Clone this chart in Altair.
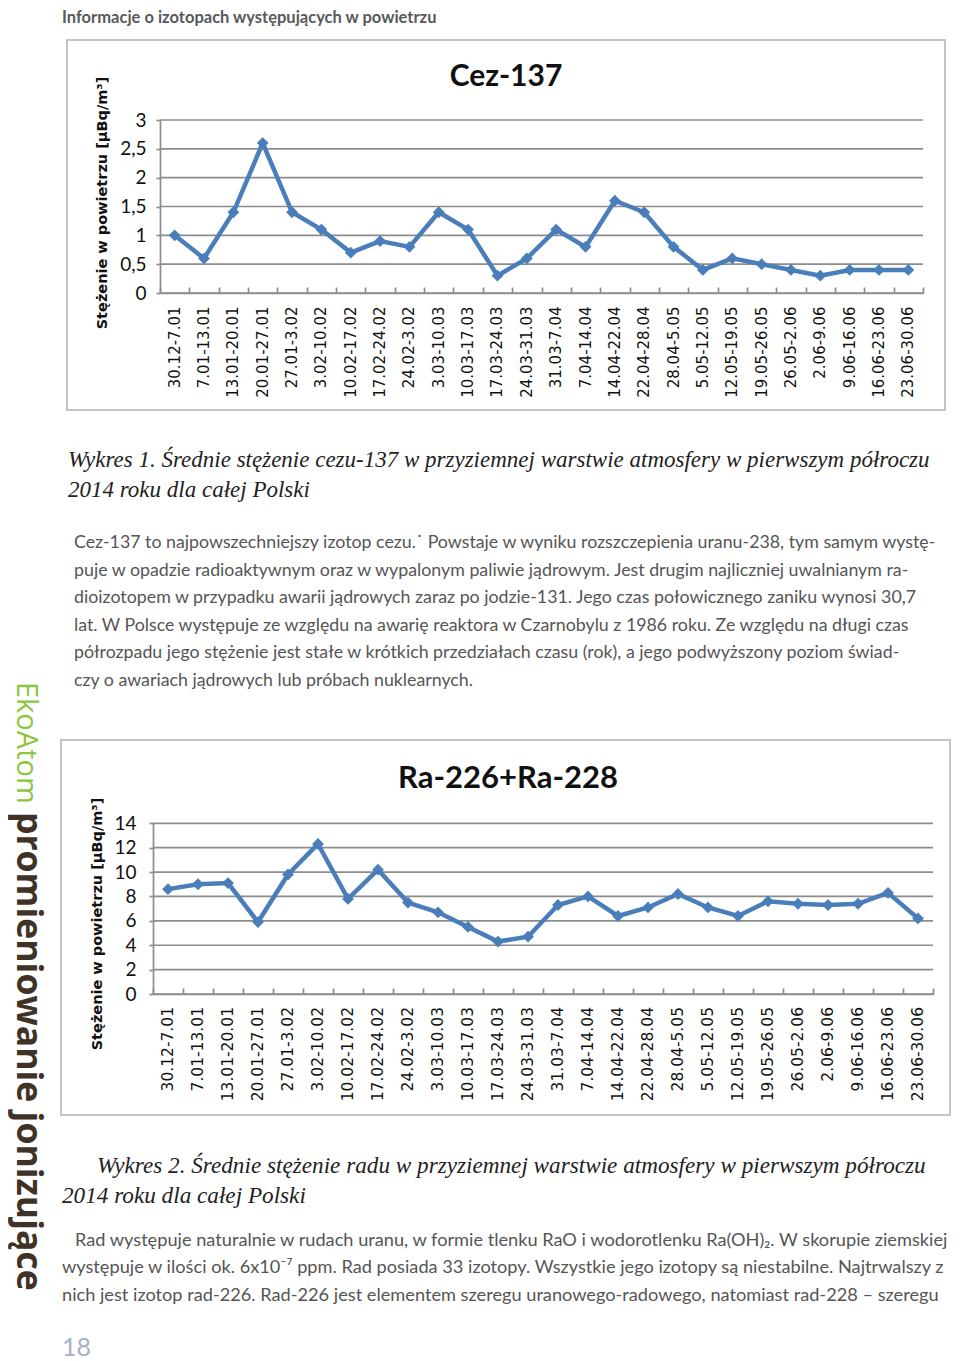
import altair as alt
import pandas as pd

# ---------------- data ----------------
periods = ["30.12-7.01", "7.01-13.01", "13.01-20.01", "20.01-27.01", "27.01-3.02",
           "3.02-10.02", "10.02-17.02", "17.02-24.02", "24.02-3.02", "3.03-10.03",
           "10.03-17.03", "17.03-24.03", "24.03-31.03", "31.03-7.04", "7.04-14.04",
           "14.04-22.04", "22.04-28.04", "28.04-5.05", "5.05-12.05", "12.05-19.05",
           "19.05-26.05", "26.05-2.06", "2.06-9.06", "9.06-16.06", "16.06-23.06",
           "23.06-30.06"]
cez137 = [1.0, 0.6, 1.4, 2.6, 1.4, 1.1, 0.7, 0.9, 0.8, 1.4, 1.1, 0.3, 0.6, 1.1, 0.8,
          1.6, 1.4, 0.8, 0.4, 0.6, 0.5, 0.4, 0.3, 0.4, 0.4, 0.4]
ra226_228 = [8.6, 9.0, 9.1, 5.9, 9.8, 12.3, 7.8, 10.2, 7.5, 6.7, 5.5, 4.3, 4.7, 7.3, 8.0,
             6.4, 7.1, 8.2, 7.1, 6.4, 7.6, 7.4, 7.3, 7.4, 8.3, 6.2]
cez_ticks = [0, 0.5, 1, 1.5, 2, 2.5, 3]
ra_ticks = [0, 2, 4, 6, 8, 10, 12, 14]

header = "Informacje o izotopach występujących w powietrzu"
title1 = "Cez-137"
title2 = "Ra-226+Ra-228"
ytitle = "Stężenie w powietrzu [µBq/m³]"
caption1 = ["Wykres 1. Średnie stężenie cezu-137 w przyziemnej warstwie atmosfery w pierwszym półroczu",
            "2014 roku dla całej Polski"]
para1 = ["Cez-137 to najpowszechniejszy izotop cezu.˙ Powstaje w wyniku rozszczepienia  uranu-238, tym samym wystę-",
         "puje w opadzie radioaktywnym oraz w wypalonym paliwie jądrowym. Jest drugim najliczniej uwalnianym ra-",
         "dioizotopem w przypadku awarii jądrowych zaraz po jodzie-131. Jego czas połowicznego zaniku wynosi 30,7",
         "lat. W Polsce występuje  ze względu na awarię reaktora w Czarnobylu z 1986 roku. Ze względu na długi czas",
         "półrozpadu  jego stężenie jest stałe w  krótkich przedziałach czasu (rok),  a jego podwyższony poziom świad-",
         "czy o awariach jądrowych lub próbach nuklearnych."]
caption2 = ["Wykres 2. Średnie stężenie radu w przyziemnej warstwie atmosfery w pierwszym półroczu",
            "2014 roku dla całej Polski"]
para2 = ["Rad występuje naturalnie w rudach uranu, w formie tlenku RaO i wodorotlenku Ra(OH)₂. W skorupie ziemskiej",
         "występuje w ilości ok. 6x10⁻⁷ ppm. Rad posiada 33 izotopy. Wszystkie jego izotopy są niestabilne. Najtrwalszy z",
         "nich jest izotop rad-226. Rad-226 jest elementem szeregu uranowego-radowego, natomiast rad-228 – szeregu"]
side1 = "EkoAtom"
side2 = "promieniowanie jonizujące"
page_no = "18"

# ---------------- layout constants ----------------
W, H = 944, 1353
BLUE = "#4A7EBB"
GRID = "#8c8c8c"
one = pd.DataFrame({"a": [0]})


def P(v):  # page pixel -> chart pixel
    return v - 8


def text(t, x, y, **kw):
    return alt.Chart(one).mark_text(text=t, **kw).encode(x=alt.value(P(x)), y=alt.value(P(y)))


def frame(x0, y0, x1, y1):
    return alt.Chart(one).mark_rect(filled=False, stroke="#c4c4c4", strokeWidth=2).encode(
        x=alt.value(P(x0)), x2=alt.value(P(x1)), y=alt.value(P(y0)), y2=alt.value(P(y1)))


def line_panel(values, ticks, ymax, xr, yr, label_pad, ylabel_pad, xfont):
    df = pd.DataFrame({"okres": periods, "v": values})
    tdf = pd.DataFrame({"v": ticks})
    xs = alt.Scale(type="band", domain=periods, range=[P(xr[0]), P(xr[1])],
                   paddingInner=0, paddingOuter=0)
    ys = alt.Scale(domain=[0, ymax], range=[P(yr[0]), P(yr[1])], nice=False, zero=False)
    grid = alt.Chart(tdf).mark_rule(color=GRID, strokeWidth=1.7).encode(
        y=alt.Y("v:Q", scale=ys, axis=None),
        x=alt.value(P(xr[0])), x2=alt.value(P(xr[1])))
    line = alt.Chart(df).mark_line(color=BLUE, strokeWidth=4.5).encode(
        x=alt.X("okres:N", sort=periods, scale=xs, bandPosition=0.5,
                axis=alt.Axis(orient="bottom", offset=P(yr[0]) - H, labelAngle=-90,
                              ticks=False, tickSize=0, domain=True, domainColor=GRID,
                              domainWidth=1.7, labelFont="DejaVu Sans", labelFontSize=xfont,
                              labelColor="#111", labelPadding=label_pad, labelOverlap=False,
                              title=None, grid=False)),
        y=alt.Y("v:Q", scale=ys,
                axis=alt.Axis(orient="left", offset=-P(xr[0]), values=ticks, format="~g",
                              labelExpr="replace(datum.label, '.', ',')",
                              tickSize=4, tickColor=GRID, tickWidth=1.7,
                              domain=True, domainColor=GRID, domainWidth=1.7,
                              labelFont="Lato", labelFontSize=19, labelColor="#111",
                              labelPadding=ylabel_pad, title=None, grid=False)))
    pts = alt.Chart(df).mark_point(shape="diamond", filled=True, size=140, color=BLUE, opacity=1).encode(
        x=alt.X("okres:N", sort=periods, scale=xs, bandPosition=0.5,
                axis=alt.Axis(orient="top", offset=-P(yr[0]), labels=False, domain=False,
                              ticks=True, tickBand="extent", tickSize=6, tickColor=GRID,
                              tickWidth=1.7, title=None, grid=False)),
        y=alt.Y("v:Q", scale=ys, axis=None))
    return [grid, line, pts]


layers = []
# header
layers.append(text(header, 62, 23, align="left", baseline="alphabetic", font="Lato",
                   fontWeight="bold", fontSize=16.5, color="#58595b"))
# chart 1
layers.append(frame(67, 40, 945, 410))
layers += line_panel(cez137, cez_ticks, 3, (160, 923), (293, 120), 13, 10, 15)
layers.append(text(title1, 506, 77, align="center", baseline="middle", font="Lato",
                   fontWeight="bold", fontSize=30, color="#111"))
layers.append(text(ytitle, 103, 203, angle=270, align="center", baseline="middle",
                   font="DejaVu Sans", fontWeight="bold", fontSize=14.5, color="#111"))
# caption 1 + paragraph 1
layers.append(text(caption1, 68, 467, align="left", baseline="alphabetic",
                   font="Liberation Serif", fontStyle="italic", fontSize=23,
                   lineHeight=29.5, color="#222"))
layers.append(text(para1, 74, 548, align="left", baseline="alphabetic", font="Lato",
                   fontSize=17.8, lineHeight=27.6, color="#555"))
# chart 2
layers.append(frame(61, 740, 950, 1115))
layers += line_panel(ra226_228, ra_ticks, 14, (153, 933), (994, 823.3), 12.5, 13, 15.5)
layers.append(text(title2, 508, 779, align="center", baseline="middle", font="Lato",
                   fontWeight="bold", fontSize=31, color="#111"))
layers.append(text(ytitle, 98, 924, angle=270, align="center", baseline="middle",
                   font="DejaVu Sans", fontWeight="bold", fontSize=14.5, color="#111"))
# caption 2 + paragraph 2
layers.append(text(caption2[0], 97, 1173, align="left", baseline="alphabetic",
                   font="Liberation Serif", fontStyle="italic", fontSize=23.2, color="#222"))
layers.append(text(caption2[1], 62, 1203, align="left", baseline="alphabetic",
                   font="Liberation Serif", fontStyle="italic", fontSize=23.2, color="#222"))
layers.append(text(para2[0], 75, 1246, align="left", baseline="alphabetic", font="Lato",
                   fontSize=18.2, color="#555"))
layers.append(text(para2[1:], 62, 1273, align="left", baseline="alphabetic", font="Lato",
                   fontSize=18.2, lineHeight=27.6, color="#555"))
# side banner
layers.append(text(side1, 26, 682, angle=90, align="left", baseline="middle",
                   font="Open Sans", fontSize=29, color="#8cc63f"))
layers.append(text(side2, 28, 812, angle=90, align="left", baseline="middle",
                   font="Open Sans", fontWeight="bold", fontSize=35.5, color="#3f3328"))
# page number
layers.append(text(page_no, 62, 1356, align="left", baseline="alphabetic", font="Lato",
                   fontSize=25, color="#a3b2c6"))

chart = alt.layer(*layers).resolve_scale(x="independent", y="independent").properties(
    width=W, height=H, padding=0, autosize=alt.AutoSizeParams(type="none")
).configure_view(stroke=None)

chart.save("out.html", embed_options={"renderer": "svg", "actions": False})
